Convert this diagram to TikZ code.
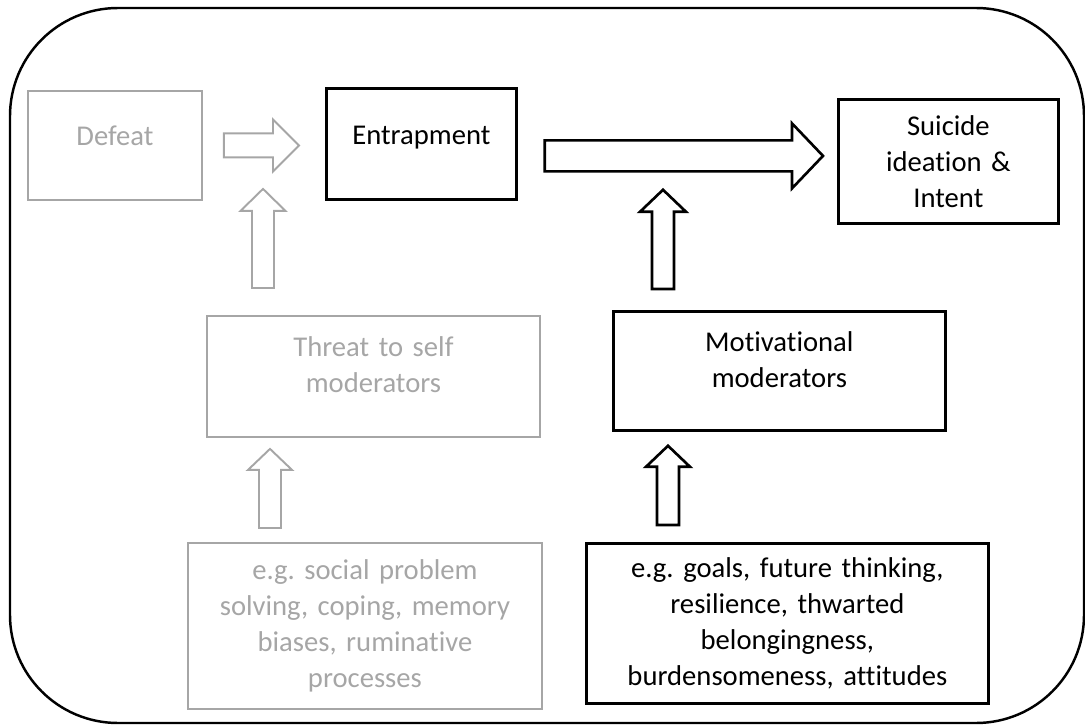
\documentclass[tikz,border=0pt]{standalone}
\usepackage{fontspec}
\setmainfont{Carlito}[Ligatures=NoCommon]
\usepackage{tikz}
\usetikzlibrary{calc}
\usepackage{xcolor}
\definecolor{fadegray}{HTML}{A6A6A6}
\frenchspacing

\begin{document}
\begin{tikzpicture}[x=0.02cm, y=-0.02cm,
    font=\fontsize{16.3pt}{20.5pt}\selectfont,
    box/.style={draw=black, line width=1.6pt, inner sep=0pt, anchor=north west, align=center},
    greybox/.style={box, draw=fadegray, text=fadegray, line width=1.1pt},
    oneline/.style={text height=12pt, text depth=11.5pt},
    twoline/.style={text height=12pt, text depth=34.6pt},
    shaft/.store in=\shafthalf, shaft=11,
    head/.store in=\headhalf, head=22,
    headlen/.store in=\headlen, headlen=22,
    fatright/.style={line width=1.5pt, line join=miter, to path={
        ($(\tikztostart)+(0,\shafthalf)$) -- ($(\tikztotarget)+(-\headlen,\shafthalf)$)
        -- ($(\tikztotarget)+(-\headlen,\headhalf)$) -- (\tikztotarget)
        -- ($(\tikztotarget)+(-\headlen,-\headhalf)$) -- ($(\tikztotarget)+(-\headlen,-\shafthalf)$)
        -- ($(\tikztostart)+(0,-\shafthalf)$) -- cycle}},
    fatup/.style={line width=1.5pt, line join=miter, to path={
        ($(\tikztostart)+(\shafthalf,0)$) -- ($(\tikztotarget)+(\shafthalf,\headlen)$)
        -- ($(\tikztotarget)+(\headhalf,\headlen)$) -- (\tikztotarget)
        -- ($(\tikztotarget)+(-\headhalf,\headlen)$) -- ($(\tikztotarget)+(-\shafthalf,\headlen)$)
        -- ($(\tikztostart)+(-\shafthalf,0)$) -- cycle}},
    greyarrow/.style={draw=fadegray, line width=1.1pt}]

    \useasboundingbox (0,0) rectangle (1085,726);

    % Outer frame
    \draw[line width=1.4pt, rounded corners=2.16cm] (10,8) rectangle (1084,723);

    % Boxes
    \node[greybox, oneline, minimum width=3.48cm, minimum height=2.18cm, text width=3.2cm] (defeat) at (27,90) {Defeat};
    \node[box, oneline, minimum width=3.8cm, minimum height=2.22cm, text width=3.6cm] (entrap) at (325,87) {Entrapment};
    \node[box, minimum width=4.4cm, minimum height=2.48cm, text width=4cm] (suicide) at (837,98) {Suicide\\ideation \&\\Intent};
    \node[greybox, twoline, minimum width=6.66cm, minimum height=2.42cm, text width=6.2cm] (threat) at (206,315) {Threat to self\\moderators};
    \node[box, twoline, minimum width=6.64cm, minimum height=2.38cm, text width=6.2cm] (motiv) at (612,310) {Motivational\\moderators};
    \node[greybox, minimum width=7.08cm, minimum height=3.32cm, text width=6.8cm] (egleft) at (187,542)
        {e.g. social problem\\solving, coping, memory\\biases, ruminative\\processes};
    \node[box, minimum width=8.04cm, minimum height=3.2cm, text width=7.8cm] (egright) at (585,542)
        {e.g. goals, future thinking,\\resilience, thwarted\\belongingness,\\burdensomeness, attitudes};

    % Arrow end points
    \coordinate (a1s) at ($(defeat.east)+(21,0)$);
    \coordinate (a1e) at ($(a1s -| entrap.west)+(-26,0)$);
    \coordinate (a2s) at ($(entrap.east)+(27,12)$);
    \coordinate (a2e) at ($(a2s -| suicide.west)+(-14,0)$);
    \coordinate (a3s) at ($(threat.north west)+(57,-27)$);
    \coordinate (a3e) at ($(a3s |- defeat.south)+(0,-12)$);
    \coordinate (a4s) at ($(motiv.north west)+(51,-21)$);
    \coordinate (a4e) at ($(a4s |- entrap.south)+(0,-11)$);
    \coordinate (a5s) at ($(egleft.north west)+(83,-14)$);
    \coordinate (a5e) at ($(a5s |- threat.south)+(0,11)$);
    \coordinate (a6s) at ($(egright.north west)+(83,-17)$);
    \coordinate (a6e) at ($(a6s |- motiv.south)+(0,14)$);

    % Block arrows
    \draw[fatright, greyarrow, shaft=12, head=26, headlen=26] (a1s) to (a1e);
    \draw[fatright, shaft=15.5, head=32.5, headlen=31] (a2s) to (a2e);
    \draw[fatup, greyarrow, shaft=11, head=22.5, headlen=22] (a3s) to (a3e);
    \draw[fatup, shaft=11, head=23, headlen=22] (a4s) to (a4e);
    \draw[fatup, greyarrow, shaft=11, head=22, headlen=21] (a5s) to (a5e);
    \draw[fatup, shaft=11, head=22, headlen=21] (a6s) to (a6e);
\end{tikzpicture}
\end{document}
